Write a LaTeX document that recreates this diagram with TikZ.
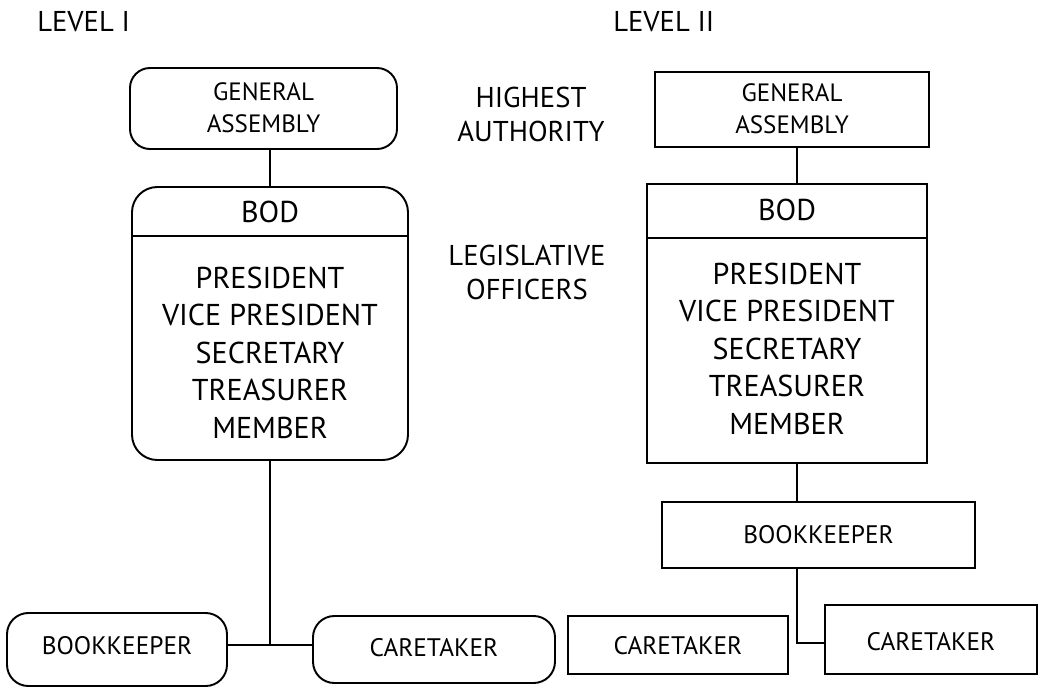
\documentclass[tikz,border=0pt]{standalone}
\usepackage{fontspec}
\setmainfont{PT Sans}
\usetikzlibrary{fit}
\begin{document}
\begin{tikzpicture}[x=0.75pt,y=-0.75pt,
  lw/.style={line width=1.45pt},
  rbox/.style={draw, lw, rounded corners=15pt, inner sep=0pt},
  sbox/.style={draw, lw, inner sep=0pt},
  conn/.style={lw},
  small/.style={font=\fontsize{18.8}{24}\selectfont, align=center, inner sep=0pt},
  mid/.style={font=\fontsize{19}{25}\selectfont, align=center, inner sep=0pt},
  big/.style={font=\fontsize{22.6}{28.1}\selectfont, align=center, inner sep=0pt},
  side/.style={font=\fontsize{21.5}{25.5}\selectfont, align=center, inner sep=0pt}]
\useasboundingbox (0,0) rectangle (1040,687);

% headings
\node[side, anchor=west] (lvlA) at (37,22) {LEVEL I};
\node[side, anchor=west] (lvlB) at (613,22) {LEVEL II};
\node[side] (hauth) at (531,114) {HIGHEST\\AUTHORITY};
\node[side] (legis) at (527,272) {LEGISLATIVE\\OFFICERS};

% ---------- Level I ----------
\node[rbox, fit={(130,68) (397,149)}] (gaL) {};
\node[small] (gaLt) at (263.5,108) {GENERAL\\ASSEMBLY};
\node[rbox, rounded corners=19pt, fit={(132,187) (408,460)}] (bodL) {};
\coordinate (dLa) at (132,236);
\coordinate (dLb) at (408,236);
\draw[conn] (dLa) -- (dLb);
\node[big] (bodLt) at (270,212) {BOD};
\node[big] (bodLl) at (270,352.5) {PRESIDENT\\VICE PRESIDENT\\SECRETARY\\TREASURER\\MEMBER};
\node[rbox, rounded corners=16pt, fit={(7,613) (227,686)}] (bkL) {};
\node[mid] (bkLt) at (117,646) {BOOKKEEPER};
\node[rbox, rounded corners=16pt, fit={(313,616) (555,683)}] (ctL) {};
\node[mid] (ctLt) at (434,648) {CARETAKER};
\coordinate (jL) at (270,645);

\draw[conn] (bodL.north) -- (bodL.north |- gaL.south);
\draw[conn] (bodL.south) -- (jL);
\draw[conn] (bkL.east |- jL) -- (ctL.west |- jL);

% ---------- Level II ----------
\node[sbox, fit={(655,72) (929,147)}] (gaR) {};
\node[small] (gaRt) at (792,109) {GENERAL\\ASSEMBLY};
\node[sbox, fit={(647,184) (927,463)}] (bodR) {};
\coordinate (dRa) at (647,238);
\coordinate (dRb) at (927,238);
\draw[conn] (dRa) -- (dRb);
\node[big] (bodRt) at (787,210) {BOD};
\node[big] (bodRl) at (787,348.5) {PRESIDENT\\VICE PRESIDENT\\SECRETARY\\TREASURER\\MEMBER};
\node[sbox, fit={(662,502) (975,568)}] (bkR) {};
\node[mid] (bkRt) at (bkR.center) {BOOKKEEPER};
\node[sbox, fit={(568,616) (788,674)}] (ctRa) {};
\node[mid] (ctRat) at (678,646) {CARETAKER};
\node[sbox, fit={(825,605) (1037,674)}] (ctRb) {};
\node[mid] (ctRbt) at (931,642) {CARETAKER};
\coordinate (xR) at (797,0);
\coordinate (jR) at (797,643);

\draw[conn] (gaR.south -| xR) -- (bodR.north -| xR);
\draw[conn] (bodR.south -| xR) -- (bkR.north -| xR);
\draw[conn] (bkR.south -| xR) -- (jR) -- (ctRb.west |- jR);
\end{tikzpicture}
\end{document}
